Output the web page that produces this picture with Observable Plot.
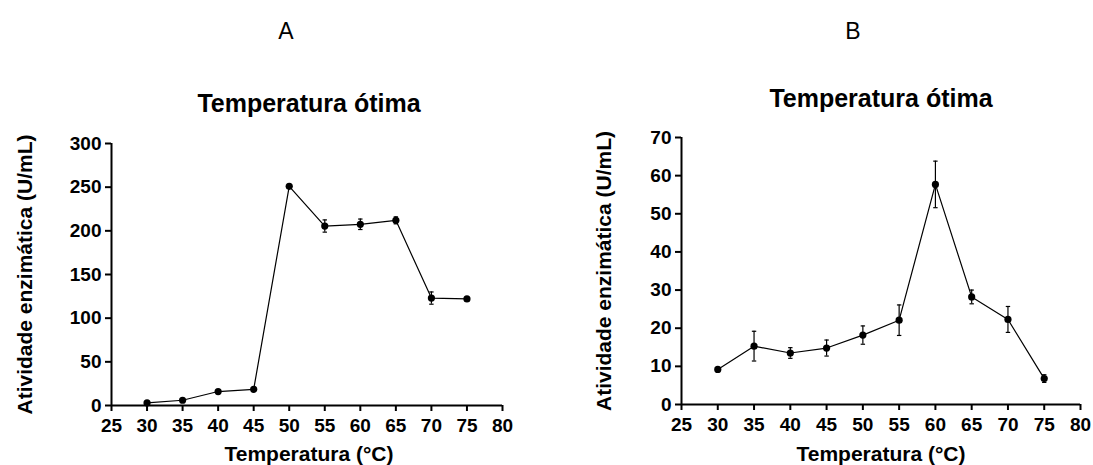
<!DOCTYPE html>
<html>
<head>
<meta charset="utf-8">
<script src="https://cdn.jsdelivr.net/npm/d3@7"></script>
<script src="https://cdn.jsdelivr.net/npm/@observablehq/plot@0.6"></script>
<style>
  html, body { margin: 0; padding: 0; background: #fff; }
  #wrap { display: flex; width: 1093px; height: 465px; overflow: hidden; }
  svg { display: block; }
</style>
</head>
<body>
<div id="wrap"></div>
<script>
// ---- data ----
const temps = [30, 35, 40, 45, 50, 55, 60, 65, 70, 75];
const activityA = [3, 6, 16, 18.5, 251, 205.5, 207.5, 212, 123, 122];
const errorA = [0, 0, 0, 0, 0, 7, 6, 4, 7, 0];
const activityB = [9.2, 15.3, 13.5, 14.8, 18.2, 22.1, 57.7, 28.2, 22.3, 6.8];
const errorB = [0, 3.9, 1.4, 2.1, 2.4, 4.0, 6.1, 1.8, 3.4, 1.0];
const xTicks = [25, 30, 35, 40, 45, 50, 55, 60, 65, 70, 75, 80];
const yTicksA = [0, 50, 100, 150, 200, 250, 300];
const yTicksB = [0, 10, 20, 30, 40, 50, 60, 70];
const panelLetters = ["A", "B"];
const chartTitle = "Temperatura ótima";
const xLabel = "Temperatura (°C)";
const yLabel = "Atividade enzimática (U/mL)";

const FONT = "'Liberation Sans', Arial, Helvetica, sans-serif";

const capSymbol = {
  draw(context, size) {
    const r = Math.sqrt(size / Math.PI);
    context.moveTo(-r, 0);
    context.lineTo(r, 0);
  }
};

function panel(o) {
  const rows = temps.map((t, i) => ({t, v: o.values[i], e: o.errors[i]}));
  const bars = rows.filter(d => d.e > 0);
  return Plot.plot({
    width: o.width,
    height: 465,
    marginLeft: o.marginLeft,
    marginRight: o.marginRight,
    marginTop: o.marginTop,
    marginBottom: o.marginBottom,
    style: {fontFamily: FONT, fontSize: "19px", fontWeight: "bold", background: "white", color: "black", overflow: "visible"},
    x: {type: "linear", domain: [25, 80]},
    y: {type: "linear", domain: [0, o.yMax]},
    marks: [
      Plot.axisX({ticks: xTicks, tickSize: 6, tickPadding: 7, strokeWidth: 2, label: null, tickFormat: d => String(d), fontSize: 19, fontWeight: "bold"}),
      Plot.axisY({ticks: o.yTicks, tickSize: 6, tickPadding: 4, strokeWidth: 2, label: null, tickFormat: d => String(d), fontSize: 19, fontWeight: "bold"}),
      Plot.ruleY([0], {strokeWidth: 2}),
      Plot.ruleX([25], {strokeWidth: 2}),
      Plot.ruleX(bars, {x: "t", y1: d => d.v - d.e, y2: d => d.v + d.e, stroke: "black", strokeWidth: 1.2}),
      Plot.dot(bars, {x: "t", y: d => d.v - d.e, symbol: capSymbol, r: 2.2, stroke: "black", fill: "none", strokeWidth: 1.2}),
      Plot.dot(bars, {x: "t", y: d => d.v + d.e, symbol: capSymbol, r: 2.2, stroke: "black", fill: "none", strokeWidth: 1.2}),
      Plot.line(rows, {x: "t", y: "v", stroke: "black", strokeWidth: 1.2}),
      Plot.dot(rows, {x: "t", y: "v", r: 3.6, fill: "black", stroke: "none"}),
      Plot.text([o.letter], {frameAnchor: "top", text: d => d, textAnchor: "middle", lineAnchor: "bottom", dx: o.letterDx, dy: o.letterDy, fontSize: 23, fontWeight: "normal"}),
      Plot.text([chartTitle], {frameAnchor: "top", text: d => d, textAnchor: "middle", lineAnchor: "bottom", dx: o.titleDx, dy: o.titleDy, fontSize: 25, fontWeight: "bold"}),
      Plot.text([xLabel], {frameAnchor: "bottom", text: d => d, textAnchor: "middle", lineAnchor: "bottom", dx: o.xLabDx, dy: o.xLabDy, fontSize: 21, fontWeight: "bold"}),
      Plot.text([yLabel], {frameAnchor: "left", text: d => d, rotate: -90, textAnchor: "middle", lineAnchor: "middle", dx: o.yLabDx, dy: 0, fontSize: 21, fontWeight: "bold"})
    ]
  });
}

const wrap = document.getElementById("wrap");
wrap.appendChild(panel({
  letter: panelLetters[0], values: activityA, errors: errorA, yTicks: yTicksA, yMax: 300,
  width: 546, marginLeft: 111, marginRight: 44, marginTop: 143, marginBottom: 60,
  letterDx: -21, letterDy: -105, titleDx: 2, titleDy: -32, xLabDx: 2, xLabDy: 55, yLabDx: -86
}));
wrap.appendChild(panel({
  letter: panelLetters[1], values: activityB, errors: errorB, yTicks: yTicksB, yMax: 70,
  width: 547, marginLeft: 135, marginRight: 13, marginTop: 137, marginBottom: 61,
  letterDx: -28, letterDy: -99, titleDx: 0, titleDy: -31, xLabDx: 0, xLabDy: 56, yLabDx: -77
}));
</script>
</body>
</html>
